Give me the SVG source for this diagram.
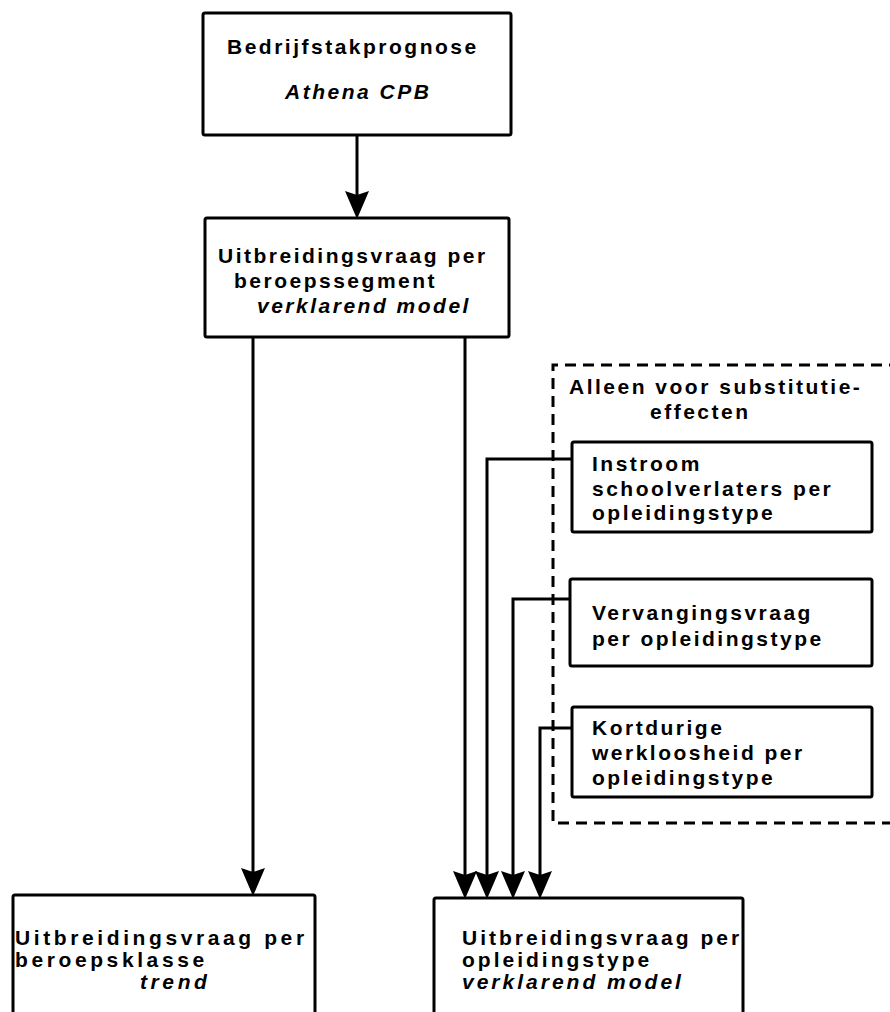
<svg xmlns="http://www.w3.org/2000/svg" width="890" height="1012" viewBox="0 0 890 1012">
<style>
.box{fill:#fff;stroke:#000;stroke-width:3}
.t{font-family:"Liberation Sans",Arial,sans-serif;font-size:21px;font-weight:bold;letter-spacing:2.5px;fill:#000}
.w1{letter-spacing:3.6px}
.w2{letter-spacing:3px}
.i{font-style:italic}
.c{fill:none;stroke:#000;stroke-width:3}
.d{fill:none;stroke:#000;stroke-width:3;stroke-dasharray:11 7}
</style>
<defs>
<marker id="ah" markerUnits="userSpaceOnUse" markerWidth="30" markerHeight="26" viewBox="0 -13 30 26" refX="17" refY="0" orient="auto">
<path d="M0,-12 L28,0 L0,12 L4,0 z" fill="#000"/>
</marker>
</defs>
<g id="group-substitutie">
<path class="d" d="M900,365 H553 V823 H900"/>
<text class="t" x="569" y="394">Alleen voor substitutie-</text>
<text class="t" x="650" y="419">effecten</text>
</g>
<g id="connectors">
<path class="c" d="M357,135 V208" marker-end="url(#ah)"/>
<path class="c" d="M253,337 V885" marker-end="url(#ah)"/>
<path class="c" d="M465,337 V888" marker-end="url(#ah)"/>
<path class="c" d="M572,459 H487 V888" marker-end="url(#ah)"/>
<path class="c" d="M570,599 H513 V888" marker-end="url(#ah)"/>
<path class="c" d="M572,728 H540 V888" marker-end="url(#ah)"/>
</g>
<g id="bedrijfstakprognose">
<rect class="box" x="203" y="13" width="308" height="122" rx="2"/>
<text class="t" x="227" y="54">Bedrijfstakprognose</text>
<text class="t i" x="285" y="99">Athena CPB</text>
</g>
<g id="uitbreiding-segment">
<rect class="box" x="205" y="218" width="304" height="119" rx="2"/>
<text class="t" x="218" y="263">Uitbreidingsvraag per</text>
<text class="t" x="234" y="288">beroepssegment</text>
<text class="t i" x="257" y="313">verklarend model</text>
</g>
<g id="instroom">
<rect class="box" x="572" y="442" width="300" height="90" rx="2"/>
<text class="t" x="592" y="471">Instroom</text>
<text class="t" x="592" y="496">schoolverlaters per</text>
<text class="t" x="592" y="520">opleidingstype</text>
</g>
<g id="vervangingsvraag">
<rect class="box" x="570" y="579" width="302" height="87" rx="2"/>
<text class="t" x="592" y="620">Vervangingsvraag</text>
<text class="t" x="592" y="646">per opleidingstype</text>
</g>
<g id="kortdurige">
<rect class="box" x="572" y="707" width="300" height="90" rx="2"/>
<text class="t" x="592" y="735">Kortdurige</text>
<text class="t" x="592" y="760">werkloosheid per</text>
<text class="t" x="592" y="785">opleidingstype</text>
</g>
<g id="uitbreiding-klasse">
<rect class="box" x="13" y="895" width="302" height="140" rx="2"/>
<text class="t w1" x="15" y="945">Uitbreidingsvraag per</text>
<text class="t w1" x="15" y="967">beroepsklasse</text>
<text class="t w1 i" x="140" y="989">trend</text>
</g>
<g id="uitbreiding-opleiding">
<rect class="box" x="434" y="898" width="309" height="140" rx="2"/>
<text class="t w2" x="462" y="945">Uitbreidingsvraag per</text>
<text class="t w2" x="462" y="967">opleidingstype</text>
<text class="t w2 i" x="462" y="989">verklarend model</text>
</g>
</svg>
